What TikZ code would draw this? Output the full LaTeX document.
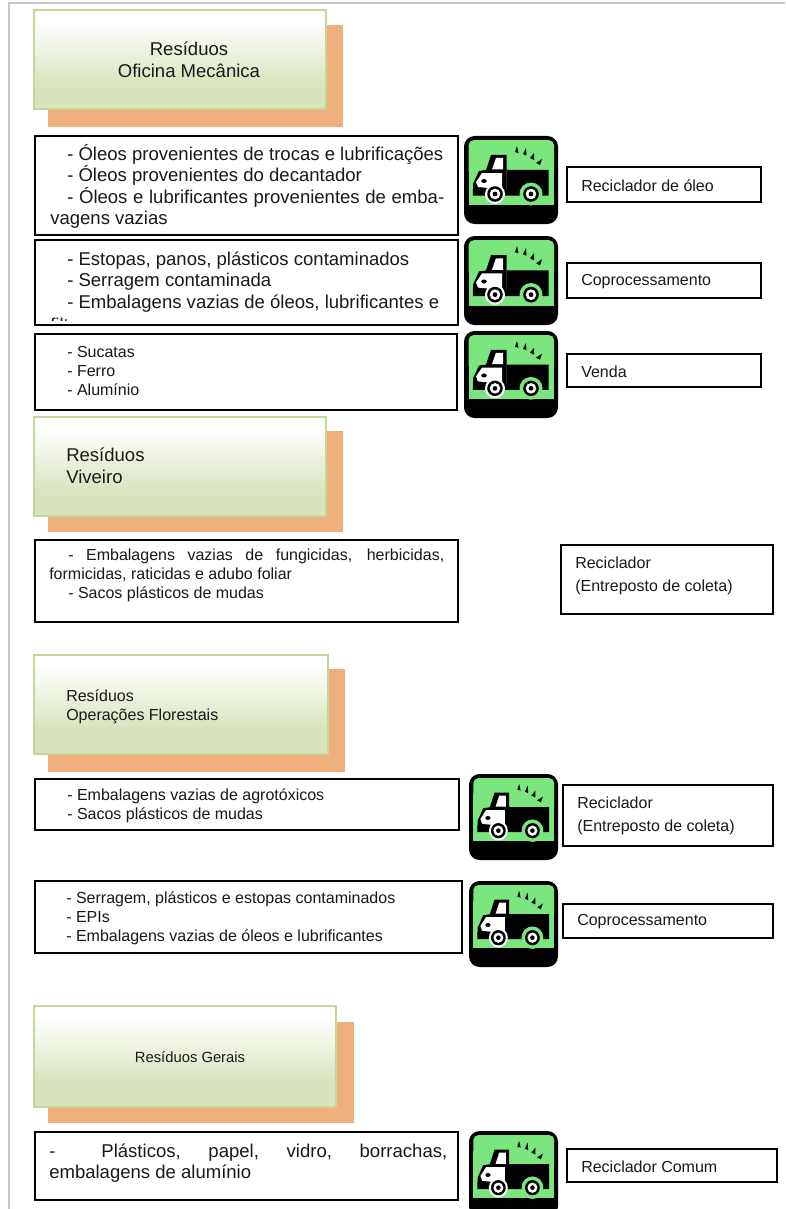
\documentclass[tikz,border=0pt]{standalone}
\usepackage{fontspec}
\setmainfont{Liberation Sans}
\definecolor{hc}{HTML}{D8E4BC}
\definecolor{hb}{HTML}{C3D69B}
\definecolor{shc}{HTML}{EFB07C}
\definecolor{grn}{HTML}{7BE67E}
\pgfdeclareverticalshading{hdr}{100bp}{color(0bp)=(hc); color(37bp)=(hc); color(70bp)=(white); color(100bp)=(white)}
\newdimen\pxu \pxu=0.75pt
\tikzset{
  headbox/.style={draw=hb,line width=2.2pt,shading=hdr,inner sep=0pt,outer sep=0pt},
  shadowbox/.style={fill=shc,inner sep=0pt,outer sep=0pt},
  itembox/.style={draw=black,line width=1.6pt,fill=white,inner sep=0pt,outer sep=0pt},
  labelbox/.style={draw=black,line width=1.4pt,fill=white,inner sep=0pt,outer sep=0pt},
  big/.style={font=\fontsize{13.9}{16.2}\selectfont,align=left,inner sep=0pt,text=black!90},
  mid/.style={font=\fontsize{12}{14.2}\selectfont,align=left,inner sep=0pt,text=black!90},
  lab/.style={font=\fontsize{12}{17.5}\selectfont,align=left,inner sep=0pt,text=black!90},
}
% name, x1, y1, x2, y2, style
\newcommand\bx[6]{%
  \pgfmathsetmacro\bw{(#4-#2)*0.75}\pgfmathsetmacro\bh{(#5-#3)*0.75}%
  \node[#6,anchor=north west,minimum width=\bw pt,minimum height=\bh pt] (#1) at (#2,#3) {};}
% x1,y1,x2,y2
\newcommand\truck[4]{%
  \pgfmathsetmacro\tsx{(#3-#1)/94}\pgfmathsetmacro\tsy{(#4-#2)/88}%
  \begin{scope}[shift={(#1,#2)},xscale=\tsx,yscale=\tsy]
    \fill[black,rounded corners=2.8mm] (0,0) rectangle (94,88);
    \fill[grn,rounded corners=1.3mm] (4.6,4.2) rectangle (90,40);
    \fill[grn] (4.6,20) rectangle (90,69);
    % body
    \fill[black] (42.5,34) rectangle (84.6,59.5) (8.8,52.6) rectangle (84.6,59.5);
    \fill[black] (27,19) -- (42.5,19) -- (42.5,55) -- (9,55) -- (9,48) -- (15,35) -- (22,34) -- cycle;
    % window and hood
    \fill[white] (32,22) -- (39,22) -- (39,33.5) -- (28,33.5) -- cycle;
    \fill[white] (18,37) -- (38,37) -- (38,52) -- (24,52) -- (14,51) -- (12,46) -- cycle;
    \fill[black] (20,45) ellipse (2.8 and 2);
    % wheel arches and wheels
    \fill[white] (31,58) circle (10);
    \fill[grn] (67,58) circle (11.5);
    \fill[black] (31,58) circle (7.8);
    \fill[white] (31,58) circle (5.3);
    \fill[black] (31,58) circle (2.4);
    \fill[black] (67,58) circle (7.8);
    \fill[white] (67,58) circle (5.3);
    \fill[black] (67,58) circle (2.4);
    % sparks
    \fill[black] (51,16) -- (53,10) -- (54.5,17) -- cycle;
    \fill[black] (59,18) -- (62,12) -- (62.5,19.5) -- cycle;
    \fill[black] (66,22) -- (70,17) -- (70,24) -- cycle;
    \fill[black] (72,27) -- (78,23) -- (76,29) -- cycle;
  \end{scope}}
\begin{document}
\begin{tikzpicture}[x=0.75pt,y=-0.75pt]
\clip (0,0) rectangle (785,1209);
\fill[white] (0,0) rectangle (785,1209);
% page frame
\draw[black!22,line width=1.5pt] (9,1209) -- (9,3) -- (785,3);
% header 1
\bx{s1}{48}{25}{343}{127}{shadowbox}
\bx{h1}{34}{10}{326}{109}{headbox}
\node[big,align=center] (t1) at (189,60) {Resíduos\\Oficina Mecânica};
\bx{b1}{35}{136}{458}{235}{itembox}
\node[big,anchor=west] (t1a) at (67,165) {- Óleos provenientes de trocas e lubrificações\\- Óleos provenientes do decantador};
\node[big,anchor=west] (t1b) at (50,208) {\hspace*{17\pxu}\makebox[377\pxu][s]{- Óleos e lubrificantes provenientes de emba-}\\vagens vazias};
\truck{464}{136}{558}{224}
\bx{l1}{567}{167}{761}{202}{labelbox}
\node[lab,anchor=west] (lt1) at (581,186) {Reciclador de óleo};
% box 2
\bx{b2}{35}{240}{458}{325}{itembox}
\node[big,anchor=west] (t2a) at (67,282) {- Estopas, panos, plásticos contaminados\\- Serragem contaminada\\- Embalagens vazias de óleos, lubrificantes e};
\begin{scope}
  \clip (40,316) rectangle (100,320.5);
  \node[big,anchor=west] (t2b) at (50,325) {filtros};
\end{scope}
\truck{464}{236}{558}{325}
\bx{l2}{567}{263}{761}{298}{labelbox}
\node[lab,anchor=west] (lt2) at (581,282) {Coprocessamento};
% box 3
\bx{b3}{35}{334}{457}{410}{itembox}
\node[mid,anchor=west] (t3) at (67,371) {- Sucatas\\- Ferro\\- Alumínio};
\truck{464}{331}{558}{418}
\bx{l3}{567}{354}{761}{387}{labelbox}
\node[lab,anchor=west] (lt3) at (581,372) {Venda};
% header 2
\bx{s2}{48}{431}{343}{532}{shadowbox}
\bx{h2}{34}{417}{326}{516}{headbox}
\node[big,anchor=west] (t4) at (66,466) {Resíduos\\Viveiro};
\bx{b4}{35}{540}{458}{622}{itembox}
\node[mid,anchor=west] (t5) at (49,575) {\hspace*{19\pxu}\makebox[376\pxu][s]{- Embalagens vazias de fungicidas, herbicidas,}\\formicidas, raticidas e adubo foliar\\\hspace*{19\pxu}- Sacos plásticos de mudas};
\bx{l4}{561}{545}{773}{614}{labelbox}
\node[lab,anchor=west] (lt4) at (575,576) {Reciclador\\(Entreposto de coleta)};
% header 3
\bx{s3}{48}{669}{345}{772}{shadowbox}
\bx{h3}{34}{655}{328}{754}{headbox}
\node[mid,anchor=west] (t6) at (66,707) {Resíduos\\Operações Florestais};
\bx{b5}{35}{779}{459}{830}{itembox}
\node[mid,anchor=west] (t7) at (67,806) {- Embalagens vazias de agrotóxicos\\- Sacos plásticos de mudas};
\truck{469}{774}{558}{860}
\bx{l5}{563}{785}{773}{846}{labelbox}
\node[lab,anchor=west] (lt5) at (577,816) {Reciclador\\(Entreposto de coleta)};
% box 6
\bx{b6}{35}{881}{462}{953}{itembox}
\node[mid,anchor=west] (t8) at (66,918) {- Serragem, plásticos e estopas contaminados\\- EPIs\\- Embalagens vazias de óleos e lubrificantes};
\truck{469}{881}{558}{967}
\bx{l6}{563}{904}{773}{938}{labelbox}
\node[lab,anchor=west] (lt6) at (577,922) {Coprocessamento};
% header 4
\bx{s4}{48}{1022}{354}{1123}{shadowbox}
\bx{h4}{34}{1006}{336}{1107}{headbox}
\node[font=\fontsize{11.1}{14}\selectfont,inner sep=0pt,text=black!90] (t9) at (190,1057) {Resíduos Gerais};
\bx{b7}{35}{1132}{458}{1200}{itembox}
\node[big,anchor=west] (t10) at (49,1163) {\makebox[398\pxu][s]{-\hspace*{46\pxu}Plásticos, papel, vidro, borrachas,}\\embalagens de alumínio};
\truck{469}{1131}{558}{1217}
\bx{l7}{567}{1149}{777}{1182}{labelbox}
\node[lab,anchor=west] (lt7) at (581,1167) {Reciclador Comum};
\end{tikzpicture}
\end{document}
